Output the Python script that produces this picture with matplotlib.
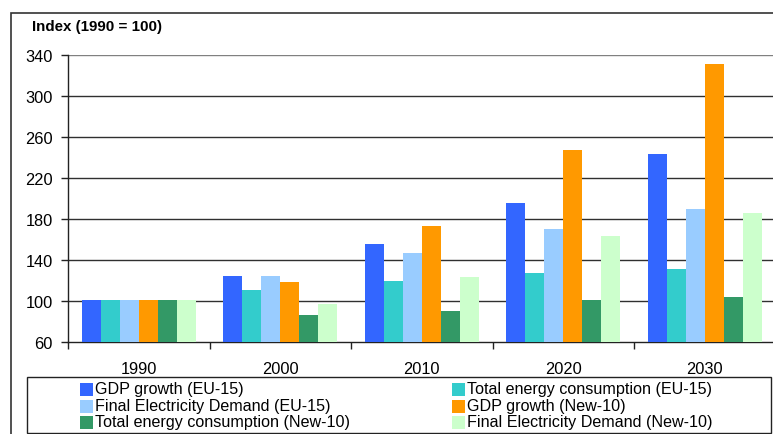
import matplotlib
matplotlib.use("Agg")
import matplotlib.pyplot as plt
from matplotlib.patches import Rectangle
import numpy as np

plt.rcParams['font.family'] = ['Liberation Sans', 'DejaVu Sans']

years = ["1990", "2000", "2010", "2020", "2030"]
series_names = [
    "GDP growth (EU-15)",
    "Total energy consumption (EU-15)",
    "Final Electricity Demand (EU-15)",
    "GDP growth (New-10)",
    "Total energy consumption (New-10)",
    "Final Electricity Demand (New-10)",
]
gdp_eu15 = [101, 124, 156, 196, 243]
energy_eu15 = [101, 111, 120, 127, 131]
elec_eu15 = [101, 124, 147, 170, 190]
gdp_new10 = [101, 119, 173, 247, 331]
energy_new10 = [101, 86, 90, 101, 104]
elec_new10 = [101, 97, 123, 163, 186]
y_ticks = [60, 100, 140, 180, 220, 260, 300, 340]

series = [gdp_eu15, energy_eu15, elec_eu15, gdp_new10, energy_new10, elec_new10]
colors = ["#3366FF", "#33CCCC", "#99CCFF", "#FF9900", "#339966", "#CCFFCC"]

W, H = 773, 435
fig = plt.figure(figsize=(W / 100, H / 100), dpi=100)

# outer frame around the chart (runs off the right and bottom edges)
fig.patches.append(Rectangle((11 / W, -0.1), 1.2, 1 - 14 / H + 0.1,
                             transform=fig.transFigure, fill=False,
                             edgecolor="#333333", linewidth=1.2))

left, right, top, bottom = 68, 775.5, 56, 343
ax = fig.add_axes([left / W, 1 - bottom / H, (right - left) / W, (bottom - top) / H])

n = len(series)
group_w = 0.806
bar_w = group_w / n
x = np.arange(len(years)) + 0.5
for i, (vals, col) in enumerate(zip(series, colors)):
    offs = -group_w / 2 + bar_w * (i + 0.5)
    ax.bar(x + offs, np.array(vals) - 60, bottom=60, width=bar_w,
           color=col, edgecolor="none", label=series_names[i], zorder=3)

ax.set_xlim(0, len(years))
ax.set_ylim(60, 340)
ax.set_yticks(y_ticks)
ax.set_yticklabels([str(t) for t in y_ticks], fontsize=11.8)
for t in y_ticks[1:]:
    ax.axhline(t, color="#808080" if t == 340 else "#303030", lw=1.0, zorder=1)

ax.set_xticks(np.arange(len(years) + 1))
ax.set_xticklabels([])
ax.set_xticks(x, minor=True)
ax.set_xticklabels(years, minor=True, fontsize=11.8)
ax.tick_params(axis="x", which="major", length=5, width=1, color="#222222", direction="out")
ax.tick_params(axis="x", which="minor", length=0, pad=14)
ax.tick_params(axis="y", length=5, width=1, color="#222222", pad=6)

for s in ["top", "right"]:
    ax.spines[s].set_visible(False)
for s in ["left", "bottom"]:
    ax.spines[s].set_color("#222222")
    ax.spines[s].set_linewidth(1.0)

fig.text(32 / W, 1 - 27 / H, "Index (1990 = 100)", fontsize=10.9,
         fontweight="bold", ha="left", va="center")

# legend box below the axis
fig.patches.append(Rectangle((27 / W, 1 - 434 / H), (771 - 27) / W, (434 - 378) / H,
                             transform=fig.transFigure, fill=False,
                             edgecolor="#222222", linewidth=1.0))
leg_x = [80, 452]
leg_y = [390, 407, 423]
for i, (name, col) in enumerate(zip(series_names, colors)):
    cx = leg_x[i % 2]
    cy = leg_y[i // 2]
    fig.patches.append(Rectangle((cx / W, 1 - (cy + 6.5) / H), 13 / W, 13 / H,
                                 transform=fig.transFigure, facecolor=col,
                                 edgecolor="none"))
    fig.text((cx + 15) / W, 1 - cy / H, name, fontsize=11.6,
             ha="left", va="center")

fig.savefig("out.png", dpi=100)
